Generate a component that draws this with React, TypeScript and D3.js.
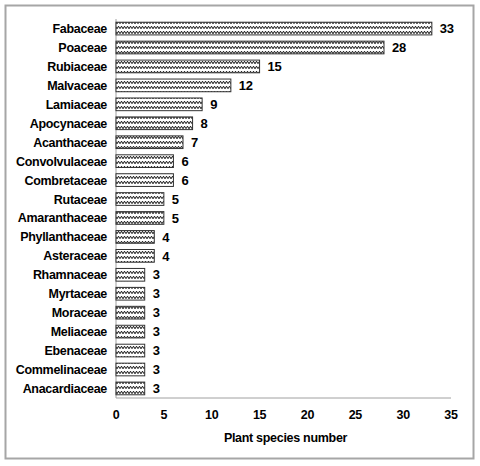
import React from "react";
import * as d3 from "d3";

const families = [
  "Fabaceae", "Poaceae", "Rubiaceae", "Malvaceae", "Lamiaceae", "Apocynaceae",
  "Acanthaceae", "Convolvulaceae", "Combretaceae", "Rutaceae", "Amaranthaceae",
  "Phyllanthaceae", "Asteraceae", "Rhamnaceae", "Myrtaceae", "Moraceae",
  "Meliaceae", "Ebenaceae", "Commelinaceae", "Anacardiaceae",
];
const counts = [33, 28, 15, 12, 9, 8, 7, 6, 6, 5, 5, 4, 4, 3, 3, 3, 3, 3, 3, 3];
const xTicks = [0, 5, 10, 15, 20, 25, 30, 35];
const xTitle = "Plant species number";

export default function App() {
  const W = 480, H = 466;
  const left = 116, right = 451, top = 19, bottom = 398;
  const x = d3.scaleLinear().domain([0, 35]).range([left, right]);
  const y = d3.scaleBand().domain(families).range([top, bottom]).paddingInner(0.33).paddingOuter(0.17);
  const font = "'Liberation Sans', Arial, sans-serif";
  return (
    <svg width={W} height={H} style={{ position: "absolute", left: 0, top: 0, background: "#fff" }}>
      <defs>
        <pattern id="wave" width="6" height="5" patternUnits="userSpaceOnUse">
          <rect width="6" height="5" fill="#fff" />
          <path d="M0,3.8 L1.5,1.2 L3,3.8 L4.5,1.2 L6,3.8" fill="none" stroke="#111" strokeWidth="1" />
        </pattern>
      </defs>
      <rect x={5.5} y={5.5} width={468} height={453} fill="none" stroke="#a6a6a6" strokeWidth={2} />
      <line x1={left} x2={left} y1={top} y2={bottom} stroke="#a0a0a0" />
      <line x1={left} x2={right} y1={bottom} y2={bottom} stroke="#a0a0a0" />
      {families.map((f, i) => {
        const by = y(f)!;
        const bh = y.bandwidth();
        return (
          <g key={f}>
            <rect x={x(0)} y={by} width={x(counts[i]) - x(0)} height={bh}
              fill="url(#wave)" stroke="#333" strokeWidth={1} />
            <text x={left - 9} y={by + bh / 2} dy="0.36em" textAnchor="end"
              fontFamily={font} fontWeight="bold" fontSize={12.5} letterSpacing={-0.3} fill="#000">{f}</text>
            <text x={x(counts[i]) + 8} y={by + bh / 2} dy="0.36em"
              fontFamily={font} fontWeight="bold" fontSize={13} letterSpacing={-0.3} fill="#000">{counts[i]}</text>
          </g>
        );
      })}
      {xTicks.map((t) => (
        <text key={t} x={x(t)} y={419} textAnchor="middle" fontFamily={font}
          fontWeight="bold" fontSize={12.5} letterSpacing={-0.3} fill="#000">{t}</text>
      ))}
      <text x={(left + right) / 2 + 2} y={442} textAnchor="middle" fontFamily={font}
        fontWeight="bold" fontSize={12.5} letterSpacing={-0.3} fill="#000">{xTitle}</text>
    </svg>
  );
}
